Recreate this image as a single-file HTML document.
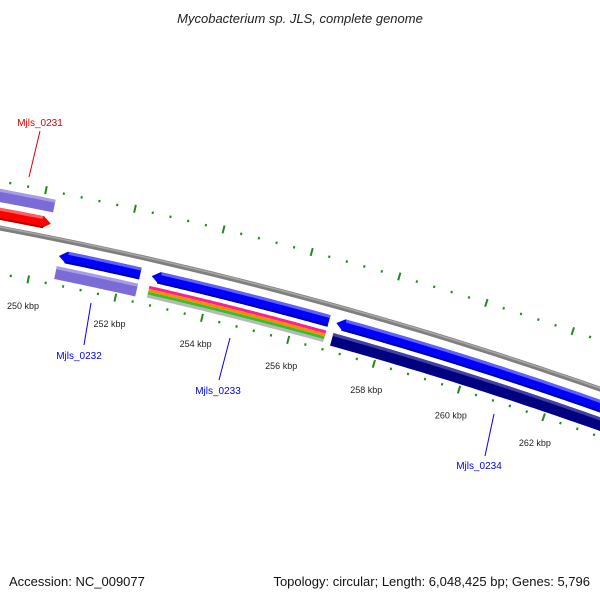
<!DOCTYPE html>
<html><head><meta charset="utf-8"><style>
html,body{margin:0;padding:0;background:#fff}
svg{display:block}
text{font-family:"Liberation Sans","DejaVu Sans",sans-serif}
</style></head><body>
<svg id="c" width="600" height="600" viewBox="0 0 600 600" xmlns="http://www.w3.org/2000/svg">
<text x="300" y="23" text-anchor="middle" font-size="13" font-style="italic" fill="#222">Mycobacterium sp. JLS, complete genome</text>
<text x="9" y="586" font-size="13" fill="#111">Accession: NC_009077</text>
<text x="590" y="586" text-anchor="end" font-size="13" fill="#111">Topology: circular; Length: 6,048,425 bp; Genes: 5,796</text>
<g id="g"></g>
</svg>
<script>
// ---- data ----
const geneNames = ["Mjls_0231","Mjls_0232","Mjls_0233","Mjls_0234"];
const geneStarts = [240.0, 250.57, 252.69, 256.94];   // kbp
const geneEnds = [250.25, 252.43, 256.77, 266.0];     // kbp
const geneStrands = [1, -1, -1, -1];
const tickStart = 246;
const tickEnd = 268;
const tickLabels = ["250 kbp","252 kbp","254 kbp","256 kbp","258 kbp","260 kbp","262 kbp"];
const tickLabelValues = [250,252,254,256,258,260,262];

// ---- geometry ----
const CX=-768, CY=4286, R0=4130;
const T0=11.24, DPK=0.624;
const g=document.getElementById('g');
const NS="http://www.w3.org/2000/svg";
function ang(k){return (T0+(k-250)*DPK)*Math.PI/180;}
function pt(k,r){const a=ang(k);return [CX+r*Math.sin(a),CY-r*Math.cos(a)];}
function mk(tag,attrs){const e=document.createElementNS(NS,tag);for(const k in attrs)e.setAttribute(k,attrs[k]);g.appendChild(e);return e;}
function band(k1,k2,r,w,fill,arrow){
  const pts=[];const n=60;const ah=8/45; // arrow length in kbp
  let a1=k1,a2=k2;
  if(arrow===1)a2=k2-ah; if(arrow===-1)a1=k1+ah;
  for(let i=0;i<=n;i++){const k=a1+(a2-a1)*i/n;pts.push(pt(k,r+w/2));}
  if(arrow===1)pts.push(pt(k2,r));
  for(let i=n;i>=0;i--){const k=a1+(a2-a1)*i/n;pts.push(pt(k,r-w/2));}
  if(arrow===-1)pts.push(pt(k1,r));
  return mk('polygon',{points:pts.map(p=>p[0].toFixed(1)+','+p[1].toFixed(1)).join(' '),fill:fill});
}
function arcLine(k1,k2,r,w,color){
  const pts=[];for(let i=0;i<=60;i++){pts.push(pt(k1+(k2-k1)*i/60,r));}
  return mk('polyline',{points:pts.map(p=>p[0].toFixed(1)+','+p[1].toFixed(1)).join(' '),fill:'none',stroke:color,'stroke-width':w});
}

// backbone
let e=arcLine(240,270,R0,5,'#7f7f7f');


e=arcLine(240,270,R0+1,1.5,'#a8a8a8');



// ticks
for(let k=tickStart;k<=tickEnd+1e-6;k+=0.4){
  const kk=Math.round(k*10)/10;
  const major=Math.abs(kk/2-Math.round(kk/2))<1e-6;
  const L=major?4:1.2;
  [R0+46,R0-45].forEach((r,j)=>{
    const p1=pt(kk,r-L),p2=pt(kk,r+L);
    const t=mk('line',{x1:p1[0],y1:p1[1],x2:p2[0],y2:p2[1],stroke:'#1f8a1f','stroke-width':major?2:2});
    
    
  });
}
tickLabelValues.forEach((v,i)=>{
  const p=pt(v,R0-72);
  const t=mk('text',{x:p[0].toFixed(1),y:(p[1]+3).toFixed(1),'text-anchor':'middle','font-size':'9',fill:'#222'});
  t.textContent=tickLabels[i];
  
  
});

// feature tracks
const featureColors=["#ff0000","#0000ff","#0000ff","#0000ff"];
const featureOffsets=[14,-16,-16,-16];
const featureDark=["#b30000","#0000a0","#0000a0","#0000a0"];
const featureLight=["#ff6060","#6060ff","#6060ff","#6060ff"];
geneNames.forEach((n,i)=>{
  const p=band(geneStarts[i],geneEnds[i],R0+featureOffsets[i],12,featureColors[i],geneStrands[i]);
  
  
  const s=geneStrands[i]===1;
  const h=arcLine(geneStarts[i]+(s?0:0.2),geneEnds[i]-(s?0.2:0),R0+featureOffsets[i]+4.5,3,featureLight[i]);
  
  
  const d=arcLine(geneStarts[i]+(s?0:0.15),geneEnds[i]-(s?0.15:0),R0+featureOffsets[i]-5,2,featureDark[i]);
  
  
});
// second track (COG-like categories)
const trackColors=["#7b6bd6","#7b6bd6",null,"#000080"];
const trackOffsets=[32,-33,-33,-33];
geneNames.forEach((n,i)=>{
  if(!trackColors[i])return;
  const p=band(geneStarts[i],geneEnds[i],R0+trackOffsets[i],13,trackColors[i],0);
  
  
  const h=arcLine(geneStarts[i],geneEnds[i],R0+trackOffsets[i]+5,3,i===3?'#4040a8':'#a89ce8');
  
  
});
// stripes for Mjls_0233
const stripeColors=["#ff1e8c","#ff8c00","#33c033","#b8b8b8"];
const stripeOffsets=[-27.5,-30.5,-33.5,-36.5];
stripeColors.forEach((c,j)=>{
  const p=band(geneStarts[2],geneEnds[2],R0+stripeOffsets[j],3,c,0);
  
  
});

// labels
const labelText=["Mjls_0231","Mjls_0232","Mjls_0233","Mjls_0234"];
const labelColors=["#dd0000","#0000ee","#0000ee","#0000ee"];
const labelX=[40,79,218,479];
const labelY=[126,359,394,469];
const lineFrom=[[40,131],[84,345],[219,380],[485,456]];
const lineTo=[[29,177],[91,303],[230,338],[494,414]];
labelText.forEach((t,i)=>{
  const l=mk('line',{x1:lineFrom[i][0],y1:lineFrom[i][1],x2:lineTo[i][0],y2:lineTo[i][1],stroke:labelColors[i],'stroke-width':1});
  
  
  const x=mk('text',{x:labelX[i],y:labelY[i],'text-anchor':'middle','font-size':'10',fill:labelColors[i]});
  x.textContent=t;
  
  
});
</script>
</body></html>
